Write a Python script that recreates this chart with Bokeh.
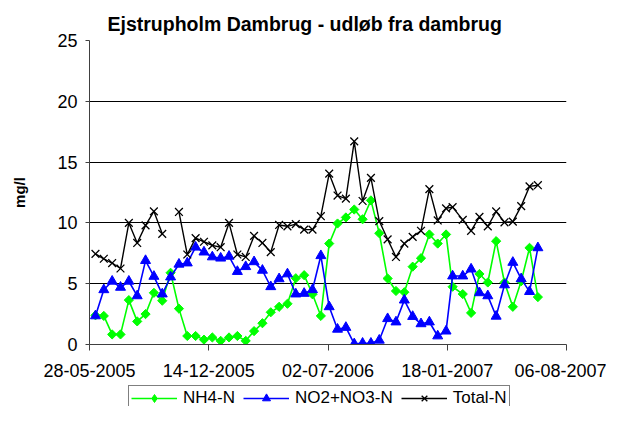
import math
import pandas as pd
from bokeh.plotting import figure
from bokeh.layouts import column
from bokeh.models import FixedTicker, Legend, LegendItem, Range1d, DatetimeTickFormatter
from bokeh.embed import file_html
from bokeh.resources import INLINE

# ---------------- data ----------------
dates = [
    "2005-06-07", "2005-06-21", "2005-07-05", "2005-07-19", "2005-08-02", "2005-08-16",
    "2005-08-30", "2005-09-13", "2005-09-27", "2005-10-11", "2005-10-25", "2005-11-08",
    "2005-11-22", "2005-12-06", "2005-12-20", "2006-01-03", "2006-01-17", "2006-01-31",
    "2006-02-14", "2006-02-28", "2006-03-14", "2006-03-28", "2006-04-11", "2006-04-25",
    "2006-05-09", "2006-05-23", "2006-06-06", "2006-06-20", "2006-07-04", "2006-07-18",
    "2006-08-01", "2006-08-15", "2006-08-29", "2006-09-12", "2006-09-26", "2006-10-10",
    "2006-10-24", "2006-11-07", "2006-11-21", "2006-12-05", "2006-12-19", "2007-01-02",
    "2007-01-16", "2007-01-27", "2007-02-13", "2007-02-27", "2007-03-13", "2007-03-27",
    "2007-04-10", "2007-04-24", "2007-05-08", "2007-05-22", "2007-06-05", "2007-06-19",
]
nh4 = [
    2.4, 2.35, 0.83, 0.83, 3.65, 1.9, 2.5, 4.25, 3.6, 5.9, 2.95, 0.7,
    0.7, 0.4, 0.58, 0.3, 0.58, 0.7, 0.3, 1.1, 1.75, 2.65, 3.1, 3.35,
    5.45, 5.7, 4.13, 2.35, 8.3, 9.95, 10.45, 11.1, 10.3, 11.85, 9.15, 5.43,
    4.4, 4.3, 6.4, 7.1, 9.05, 8.3, 9.05, 4.75, 4.15, 2.6, 5.8, 5.1,
    8.5, 5.1, 3.1, 5.2, 7.95, 3.9,
]
no2_no3 = [
    2.35, 4.5, 5.2, 4.7, 5.2, 4.0, 6.9, 5.6, 4.15, 5.55, 6.6, 6.7,
    8.0, 7.6, 7.2, 7.1, 7.25, 6.0, 6.4, 6.8, 6.1, 4.75, 5.4, 5.8,
    4.15, 4.2, 4.5, 7.3, 3.1, 1.25, 1.4, 0.05, 0.1, 0.1, 0.35, 2.12,
    1.85, 3.65, 2.3, 1.7, 1.85, 0.7, 1.1, 5.63, 5.63, 6.2, 4.25, 4.0,
    2.32, 4.9, 6.75, 5.4, 4.35, 7.95,
]
total_n = [
    7.45, 7.05, 6.7, 6.25, 10.0, 8.35, 9.8, 10.95, 9.1, float("nan"), 10.9, 7.4,
    8.75, 8.45, 8.15, 8.0, 10.0, 7.4, 7.2, 8.93, 8.35, 7.6, 9.83, 9.72,
    9.9, 9.45, 9.45, 10.55, 14.05, 12.25, 12.0, 16.7, 11.8, 13.7, 10.15, 8.65,
    7.2, 8.3, 8.85, 9.35, 12.78, 10.2, 11.2, 11.3, 10.25, 9.35, 10.5, 9.72,
    10.94, 10.05, 10.1, 11.38, 13.0, 13.1,
]
series_names = ["NH4-N", "NO2+NO3-N", "Total-N"]
series_colors = ["#00FF00", "#0000FF", "black"]
x_tick_labels = ["28-05-2005", "14-12-2005", "02-07-2006", "18-01-2007", "06-08-2007"]
y_ticks = [0, 5, 10, 15, 20, 25]
title_text = "Ejstrupholm Dambrug - udløb fra dambrug"
y_label = "mg/l"

# ---------------- main figure ----------------
FONT = "Liberation Sans"
x = pd.to_datetime(dates)
tick_ms = [t.value / 1e6 for t in pd.to_datetime(x_tick_labels, format="%d-%m-%Y")]

p = figure(
    width=606, height=384, x_axis_type="datetime",
    output_backend="svg", toolbar_location=None,
    x_range=Range1d(tick_ms[0], tick_ms[-1]),
    y_range=Range1d(y_ticks[0], y_ticks[-1]),
    min_border_left=89, min_border_right=40, min_border_top=40, min_border_bottom=40,
)
p.outline_line_color = None
p.background_fill_color = "white"
p.border_fill_color = "white"

p.title.text = title_text
p.title.text_font = FONT
p.title.text_font_size = "19.5px"
p.title.text_font_style = "bold"
p.title.text_color = "black"
p.title.align = "left"
p.title.offset = 18
p.title.standoff = 12

xa = p.xaxis[0]
xa.ticker = FixedTicker(ticks=tick_ms)
fmt = "%d-%m-%Y"
xa.formatter = DatetimeTickFormatter(
    microseconds=fmt, milliseconds=fmt, seconds=fmt, minsec=fmt, minutes=fmt,
    hourmin=fmt, hours=fmt, days=fmt, months=fmt, years=fmt,
)
xa.major_tick_out = 6
xa.major_tick_in = 0
xa.minor_tick_out = 0
xa.minor_tick_in = 0
xa.major_label_standoff = 13
xa.major_label_text_font = FONT
xa.major_label_text_font_size = "18px"
xa.major_label_text_color = "black"
xa.axis_line_color = "#404040"
xa.major_tick_line_color = "#404040"

ya = p.yaxis[0]
ya.ticker = FixedTicker(ticks=y_ticks)
ya.major_tick_out = 4
ya.major_tick_in = 0
ya.minor_tick_out = 0
ya.minor_tick_in = 0
ya.major_label_standoff = 8
ya.major_label_text_font = FONT
ya.major_label_text_font_size = "18px"
ya.major_label_text_color = "black"
ya.axis_line_color = "#404040"
ya.major_tick_line_color = "#404040"
ya.axis_label = y_label
ya.axis_label_text_font = FONT
ya.axis_label_text_font_size = "15px"
ya.axis_label_text_font_style = "bold"
ya.axis_label_text_color = "black"
ya.axis_label_standoff = 26

p.xgrid.visible = False
p.ygrid.grid_line_color = "black"
p.ygrid.grid_line_width = 1

# ---------------- series ----------------
p.line(x, nh4, line_color=series_colors[0], line_width=1.6)
p.scatter(x, nh4, marker="square", angle=math.pi / 4, size=6.5,
          fill_color=series_colors[0], line_color=series_colors[0])
p.line(x, no2_no3, line_color=series_colors[1], line_width=1.6)
p.scatter(x, no2_no3, marker="triangle", size=10,
          fill_color=series_colors[1], line_color=series_colors[1])
p.line(x, total_n, line_color=series_colors[2], line_width=1.4)
p.scatter(x, total_n, marker="x", size=11, line_color=series_colors[2], line_width=1.3)

# ---------------- legend strip (separate canvas below the chart) ----------------
lg = figure(
    width=606, height=22, output_backend="svg", toolbar_location=None,
    x_range=Range1d(0, 1), y_range=Range1d(0, 1),
    x_axis_location=None, y_axis_location=None,
    min_border_left=0, min_border_right=0, min_border_top=0, min_border_bottom=0,
)
lg.outline_line_color = None
lg.grid.visible = False
lg.background_fill_color = "white"
lg.border_fill_color = "white"

# legend-sample renderers (their single point lies outside the visible range)
off = [-5.0]
r1 = [lg.line(off, off, line_color=series_colors[0], line_width=1.6),
      lg.scatter(off, off, marker="diamond", size=10,
                 fill_color=series_colors[0], line_color=series_colors[0])]
r2 = [lg.line(off, off, line_color=series_colors[1], line_width=1.6),
      lg.scatter(off, off, marker="triangle", size=10,
                 fill_color=series_colors[1], line_color=series_colors[1])]
r3 = [lg.line(off, off, line_color=series_colors[2], line_width=1.4),
      lg.scatter(off, off, marker="x", size=11, line_color=series_colors[2], line_width=1.3)]

legend = Legend(
    items=[
        LegendItem(label=series_names[0], renderers=r1),
        LegendItem(label=series_names[1], renderers=r2),
        LegendItem(label=series_names[2], renderers=r3),
    ],
    orientation="horizontal",
    location=(39, -5),
    label_text_font=FONT,
    label_text_font_size="17px",
    label_text_color="black",
    label_height=16,
    label_standoff=6,
    glyph_width=46,
    glyph_height=20,
    spacing=8,
    padding=2,
    margin=0,
    border_line_color="black",
    border_line_width=1,
    background_fill_color="white",
    background_fill_alpha=1.0,
)
lg.add_layout(legend)

layout = column(p, lg, spacing=0)
open("out.html", "w").write(file_html(layout, INLINE))
